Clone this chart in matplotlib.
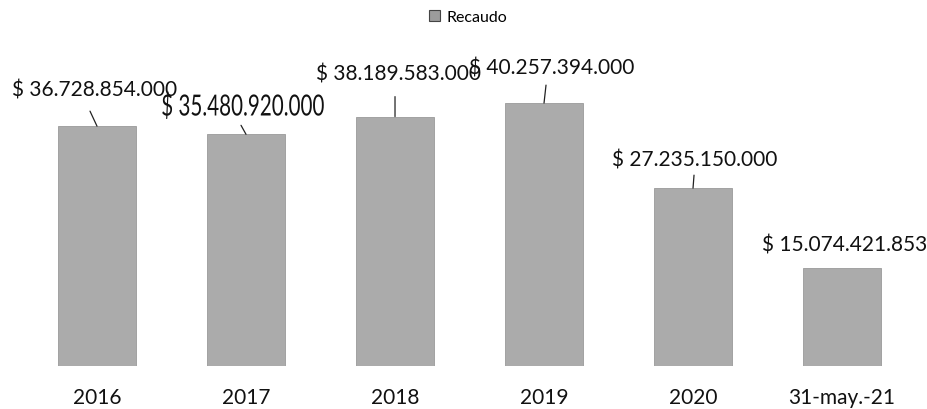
import matplotlib
matplotlib.use('Agg')
import matplotlib.pyplot as plt
from matplotlib.patches import Patch, PathPatch
from matplotlib.textpath import TextPath
from matplotlib.font_manager import FontProperties
from matplotlib.transforms import Affine2D

# Data
categories = ['2016', '2017', '2018', '2019', '2020', '31-may.-21']
recaudo = [36728854000, 35480920000, 38189583000, 40257394000, 27235150000, 15074421853]
value_labels = ['$ 36.728.854.000', '$ 35.480.920.000', '$ 38.189.583.000',
                '$ 40.257.394.000', '$ 27.235.150.000', '$ 15.074.421.853']

# Label placement (pixels relative to the bar top)
text_offsets = [(-2, 37), (-3, 29), (3, 43), (8, 36), (2, 29), (3, 23)]
leader_starts = [(-6, 15), (-2, 9), (0, 20), (1, 18), (1, 13), None]
leader_ends = [(1, 0), (3, 0), (0, 0), (-1, 0), (0, 0), None]

plt.rcParams['font.family'] = ['Lato', 'DejaVu Sans']

fig = plt.figure(figsize=(9.28, 4.10), dpi=100)
ax = fig.add_axes([0, 43 / 410, 1, 367 / 410])

x = range(len(categories))
ax.bar(x, recaudo, width=0.52, color='#ababab', edgecolor='#9a9a9a', linewidth=0.6)

ax.set_xlim(-0.651, 5.577)
ax.set_ylim(0, 56.2e9)

for i, val in enumerate(recaudo):
    dx, dy = text_offsets[i]
    if i == 1:
        # the 2017 label is drawn stretched upwards in the original
        tp = TextPath((0, 0), value_labels[i], size=20.8, prop=FontProperties(family='Lato'))
        bb = tp.get_extents()
        px, py = ax.transData.transform((i, val))
        tr = (Affine2D().translate(-(bb.x0 + bb.x1) / 2, -(bb.y0 + bb.y1) / 2)
              .scale(0.99, 1.4).translate(px + dx, py + dy))
        fig.add_artist(PathPatch(tp, transform=tr, facecolor='#111111', edgecolor='none'))
    else:
        ax.annotate(value_labels[i], xy=(i, val), xytext=(dx, dy), textcoords='offset pixels',
                    ha='center', va='center', fontsize=15, color='#111111')
    if leader_starts[i] is not None:
        sx, sy = leader_starts[i]
        ex, ey = leader_ends[i]
        ax.annotate('', xy=(i, val), xytext=(sx - ex, sy - ey), textcoords='offset pixels',
                    arrowprops=dict(arrowstyle='-', color='#222222', lw=0.9,
                                    shrinkA=0, shrinkB=0))

ax.set_xticks(list(x))
ax.set_xticklabels(categories, fontsize=15, color='#111111')
ax.tick_params(axis='x', length=0, pad=15)
ax.set_yticks([])
for s in ax.spines.values():
    s.set_visible(False)

handle = Patch(facecolor='#9c9c9c', edgecolor='#444444', linewidth=0.8)
fig.legend([handle], ['Recaudo'], loc='center', bbox_to_anchor=(468 / 928, 1 - 18 / 410),
           frameon=False, fontsize=11.5, handlelength=0.7, handleheight=0.7, handletextpad=0.4)

fig.savefig('out.png', dpi=100)
